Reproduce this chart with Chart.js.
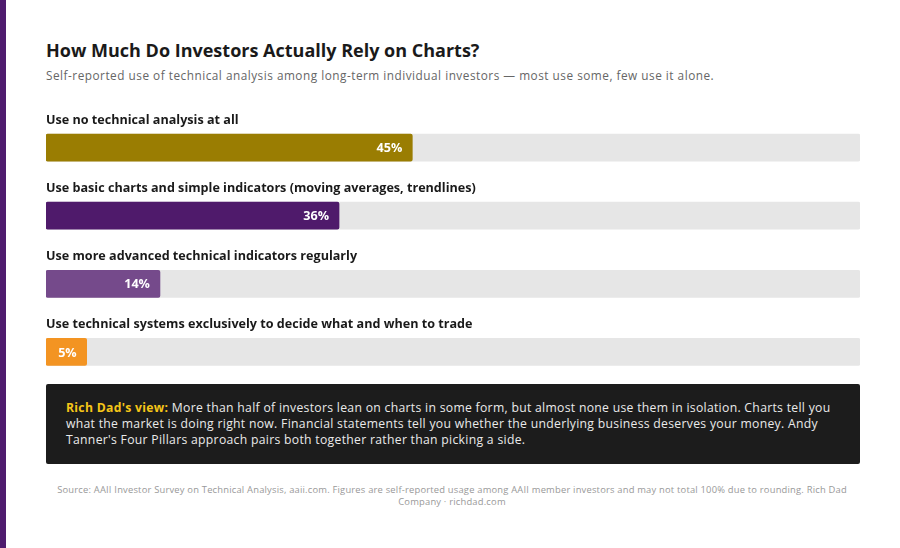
<!DOCTYPE html>
<html lang="en">
<head>
    <meta charset="UTF-8">
    <title>How Much Do Investors Actually Rely on Charts?</title>
    <script src="https://cdn.jsdelivr.net/npm/chart.js"></script>
    <style>
        html, body { margin: 0; padding: 0; background: #fff; }
        body { width: 900px; height: 548px; position: relative; overflow: hidden; font-family: "Open Sans", "DejaVu Sans", sans-serif; }
        .strip { position: absolute; left: 0; top: 0; width: 6px; height: 548px; background: #4f1c6e; }
        h1 { position: absolute; left: 46px; top: 38px; margin: 0; font-size: 18px; font-weight: 700; color: #1a1a1a; }
        .sub { position: absolute; left: 46px; top: 67px; margin: 0; font-size: 11.8px; color: #666; letter-spacing: 0.5px; }
        #chartWrap { position: absolute; left: 46px; top: 100px; width: 814px; height: 286px; }
        .callout { position: absolute; left: 46px; top: 384px; width: 814px; height: 80px; box-sizing: border-box; background: #1c1c1c; border-radius: 2px; padding: 16px 20px; color: #eaeaea; font-size: 12.2px; line-height: 16px; letter-spacing: 0.3px; }
        .callout b { color: #f5c518; }
        .source { position: absolute; left: 56px; top: 484px; width: 792px; text-align: center; font-size: 9.4px; line-height: 12px; color: #999; letter-spacing: 0.2px; }
    </style>
</head>
<body>
    <div class="strip"></div>
    <h1>How Much Do Investors Actually Rely on Charts?</h1>
    <p class="sub">Self-reported use of technical analysis among long-term individual investors — most use some, few use it alone.</p>

    <div id="chartWrap">
        <canvas id="barChart"></canvas>
    </div>

    <div class="callout"><b>Rich Dad's view:</b> More than half of investors lean on charts in some form, but almost none use them in isolation. Charts tell you what the market is doing right now. Financial statements tell you whether the underlying business deserves your money. Andy Tanner's Four Pillars approach pairs both together rather than picking a side.</div>

    <div class="source">Source: AAII Investor Survey on Technical Analysis, aaii.com. Figures are self-reported usage among AAII member investors and may not total 100% due to rounding. Rich Dad Company · richdad.com</div>

    <script>
        const categories = [
            'Use no technical analysis at all',
            'Use basic charts and simple indicators (moving averages, trendlines)',
            'Use more advanced technical indicators regularly',
            'Use technical systems exclusively to decide what and when to trade'
        ];
        const shares = [45, 36, 14, 5];
        const track = [100, 100, 100, 100];
        const barColors = ['#9a7d02', '#4f1a6b', '#754a8b', '#f39422'];

        const fontFamily = '"Open Sans", "DejaVu Sans", sans-serif';

        // draws the label above each bar and the value inside the bar end
        const labelPlugin = {
            id: 'barLabels',
            afterDatasetsDraw(chart) {
                const ctx = chart.ctx;
                const meta = chart.getDatasetMeta(1);
                ctx.save();
                meta.data.forEach((bar, i) => {
                    const top = bar.y - bar.height / 2;
                    ctx.font = '700 12.6px ' + fontFamily;
                    ctx.fillStyle = '#1a1a1a';
                    ctx.textAlign = 'left';
                    ctx.textBaseline = 'middle';
                    ctx.fillText(categories[i], chart.chartArea.left, top - 14);

                    ctx.fillStyle = '#ffffff';
                    ctx.textAlign = 'right';
                    ctx.fillText(shares[i] + '%', bar.x - 10, bar.y + 1);
                });
                ctx.restore();
            }
        };

        new Chart(document.getElementById('barChart'), {
            type: 'bar',
            data: {
                labels: categories,
                datasets: [
                    {
                        data: track,
                        backgroundColor: '#e6e6e6',
                        borderRadius: 2,
                        borderSkipped: false,
                        barThickness: 27,
                        grouped: false,
                        order: 2
                    },
                    {
                        data: shares,
                        backgroundColor: barColors,
                        borderRadius: 2,
                        borderSkipped: false,
                        barThickness: 27,
                        grouped: false,
                        order: 1
                    }
                ]
            },
            options: {
                indexAxis: 'y',
                responsive: true,
                maintainAspectRatio: false,
                animation: false,
                layout: { padding: { top: 13.5, bottom: 0, left: 0, right: 0 } },
                scales: {
                    x: { display: false, min: 0, max: 100 },
                    y: { display: false }
                },
                plugins: {
                    legend: { display: false },
                    tooltip: { enabled: false }
                }
            },
            plugins: [labelPlugin]
        });
    </script>
</body>
</html>
